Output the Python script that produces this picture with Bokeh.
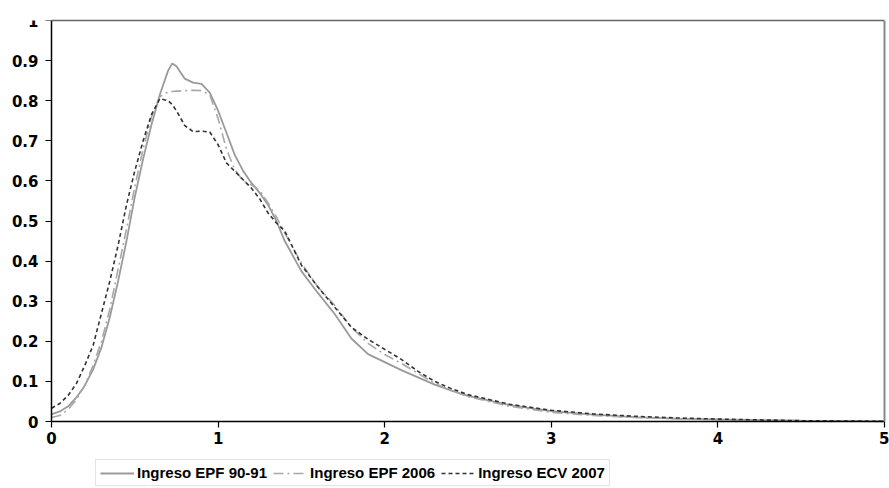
from bokeh.plotting import figure
from bokeh.models import Legend, LegendItem, Range1d, FixedTicker, LinearAxis
from bokeh.embed import file_html
from bokeh.resources import INLINE

# ---- data ----
x_vals = [0, 0.05, 0.1, 0.15, 0.2, 0.25, 0.3, 0.35, 0.4, 0.45, 0.5, 0.55, 0.6, 0.65,
          0.7, 0.725, 0.75, 0.8, 0.85, 0.9, 0.95, 1.0, 1.05, 1.1, 1.15, 1.2, 1.25,
          1.3, 1.35, 1.4, 1.5, 1.6, 1.7, 1.8, 1.9, 2.0, 2.1, 2.2, 2.3, 2.4, 2.5,
          2.75, 3.0, 3.25, 3.5, 3.75, 4.0, 4.5, 5.0]

epf_9091 = [0.018, 0.025, 0.038, 0.06, 0.09, 0.13, 0.185, 0.26, 0.35, 0.45, 0.56, 0.655,
            0.74, 0.815, 0.875, 0.893, 0.886, 0.855, 0.845, 0.842, 0.82, 0.775, 0.72,
            0.665, 0.625, 0.595, 0.57, 0.54, 0.5, 0.45, 0.375, 0.32, 0.268, 0.207,
            0.168, 0.148, 0.128, 0.11, 0.092, 0.077, 0.064, 0.041, 0.026, 0.017,
            0.011, 0.007, 0.005, 0.002, 0.0005]

epf_2006 = [0.01, 0.015, 0.03, 0.055, 0.09, 0.14, 0.2, 0.28, 0.38, 0.48, 0.585, 0.68,
            0.76, 0.81, 0.822, 0.823, 0.824, 0.825, 0.826, 0.825, 0.815, 0.755, 0.68,
            0.628, 0.6, 0.59, 0.576, 0.545, 0.51, 0.47, 0.395, 0.335, 0.29, 0.235,
            0.195, 0.167, 0.145, 0.12, 0.095, 0.078, 0.062, 0.038, 0.023, 0.015,
            0.01, 0.007, 0.005, 0.002, 0.0005]

ecv_2007 = [0.033, 0.045, 0.065, 0.095, 0.14, 0.19, 0.27, 0.35, 0.44, 0.54, 0.625, 0.70,
            0.765, 0.805, 0.8, 0.79, 0.775, 0.738, 0.723, 0.724, 0.722, 0.69, 0.645,
            0.624, 0.603, 0.582, 0.555, 0.52, 0.495, 0.475, 0.39, 0.335, 0.285, 0.235,
            0.205, 0.18, 0.155, 0.125, 0.1, 0.082, 0.067, 0.043, 0.028, 0.019,
            0.013, 0.009, 0.006, 0.002, 0.0005]

series_names = ["Ingreso EPF 90-91", "Ingreso EPF 2006", "Ingreso ECV 2007"]

x_ticks = [0, 1, 2, 3, 4, 5]
x_tick_labels = ["0", "1", "2", "3", "4", "5"]
y_ticks = [0, 0.1, 0.2, 0.3, 0.4, 0.5, 0.6, 0.7, 0.8, 0.9, 1.0]
y_tick_labels = ["0", "0.1", "0.2", "0.3", "0.4", "0.5", "0.6", "0.7", "0.8", "0.9", "1"]

# ---- figure ----
# The frame covers the whole page so axes/legend drawn inside it are not clipped.
# 166.6 px per x unit, 401 px per y unit; x=0 at px 51, y=0 at px 421.
x_low = -51 / 166.6
x_high = 5 + 5 / 166.6
y_low = -67 / 401
p = figure(frame_width=889, frame_height=468,
           output_backend="svg", toolbar_location=None,
           x_range=Range1d(x_low, x_high), y_range=Range1d(y_low, 1),
           min_border_left=0, min_border_right=0, min_border_top=20, min_border_bottom=0)
p.background_fill_color = "white"
p.border_fill_color = "white"
p.outline_line_color = None
p.xgrid.visible = False
p.ygrid.visible = False

r1 = p.line(x_vals, epf_9091, line_color="#9a9a9a", line_width=1.8)
r2 = p.line(x_vals, epf_2006, line_color="#a8a8a8", line_width=1.6, line_dash="10 4 2 4")
r3 = p.line(x_vals, ecv_2007, line_color="#333333", line_width=1.6, line_dash="4 3")

for ax in (p.xaxis[0], p.yaxis[0]):
    ax.axis_line_color = "black"
    ax.axis_line_width = 1.5
    ax.major_tick_line_color = "black"
    ax.major_tick_line_width = 1.2
    ax.major_tick_out = 6
    ax.major_tick_in = 0
    ax.minor_tick_line_color = None
    ax.major_label_text_font = "DejaVu Sans"
    ax.major_label_text_font_style = "bold"
    ax.major_label_text_font_size = "15px"
    ax.major_label_text_color = "black"
    ax.axis_label = None

p.xaxis.ticker = FixedTicker(ticks=x_ticks)
p.yaxis.ticker = FixedTicker(ticks=y_ticks)
p.xaxis.major_label_overrides = {t: l for t, l in zip(x_ticks, x_tick_labels)}
p.yaxis.major_label_overrides = {t: l for t, l in zip(y_ticks, y_tick_labels)}
p.xaxis.major_label_standoff = 4
p.yaxis.major_label_standoff = 7
p.xaxis.fixed_location = 0
p.yaxis.fixed_location = 0
p.xaxis.bounds = (0, 5)
p.yaxis.bounds = (0, 1)

# plot-area border (top and right) as bare axes without ticks or labels
top_ax = LinearAxis(bounds=(0, 5), axis_line_color="#666666", axis_line_width=1.5,
                    ticker=FixedTicker(ticks=[]), major_tick_line_color=None,
                    minor_tick_line_color=None, major_tick_out=0, major_tick_in=0,
                    minor_tick_out=0, major_label_standoff=0)
right_ax = LinearAxis(bounds=(0, 1), axis_line_color="#888888", axis_line_width=2,
                      ticker=FixedTicker(ticks=[]), major_tick_line_color=None,
                      minor_tick_line_color=None, major_tick_out=0, major_tick_in=0,
                      minor_tick_out=0, major_label_standoff=0, fixed_location=5)
p.add_layout(top_ax, "above")
p.add_layout(right_ax, "right")

legend = Legend(items=[LegendItem(label=series_names[0], renderers=[r1]),
                       LegendItem(label=series_names[1], renderers=[r2]),
                       LegendItem(label=series_names[2], renderers=[r3])],
                orientation="horizontal", location=(95, 2))
legend.label_text_font = "Liberation Sans"
legend.label_text_font_style = "bold"
legend.label_text_font_size = "15px"
legend.label_text_color = "black"
legend.label_height = 16
legend.border_line_color = "#c8c8c8"
legend.border_line_width = 1
legend.background_fill_color = "white"
legend.glyph_width = 34
legend.glyph_height = 14
legend.label_standoff = 3
legend.spacing = 6
legend.padding = 4
legend.margin = 0
p.add_layout(legend, "center")

open("out.html", "w").write(file_html(p, INLINE))
